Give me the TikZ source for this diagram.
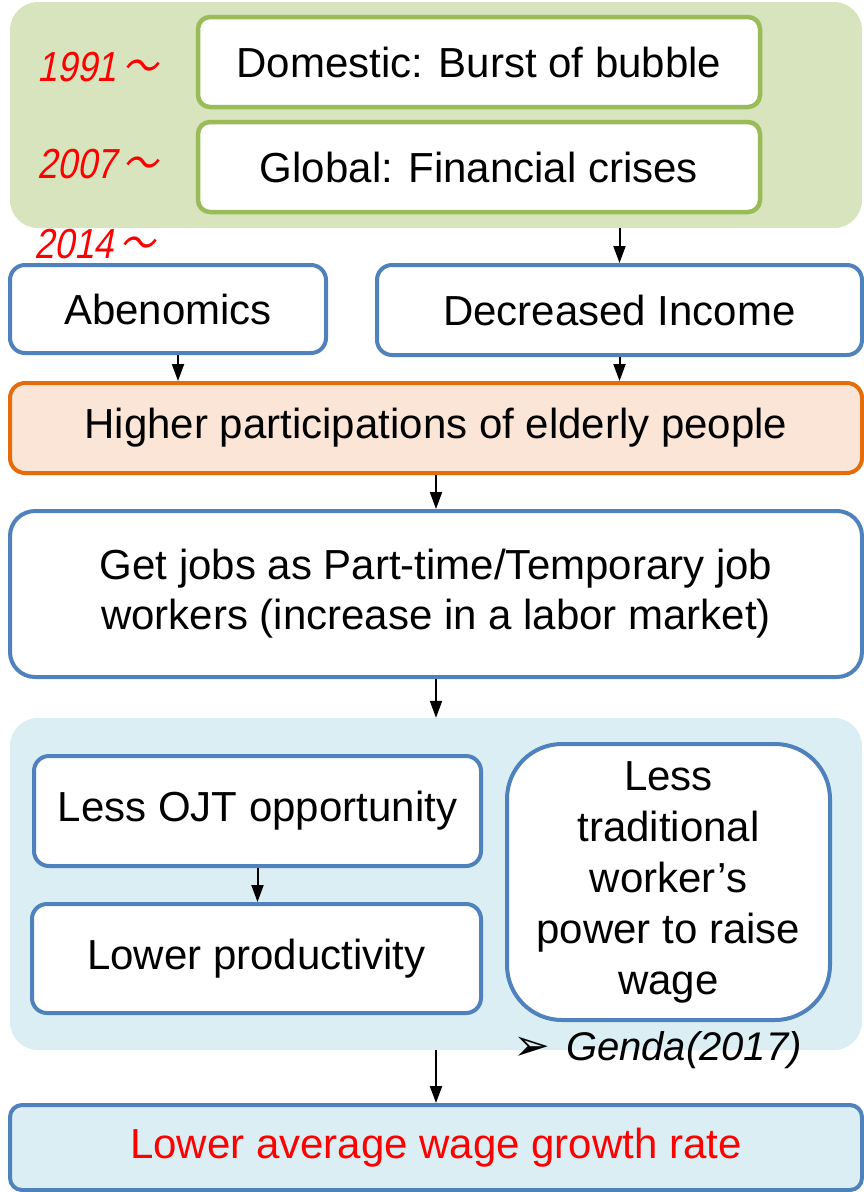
\documentclass[tikz,border=0pt]{standalone}
\usepackage{fontspec}
\setmainfont{Liberation Sans}
\newfontfamily\cjkfont[FakeSlant=0.2,FakeStretch=0.85]{Noto Sans CJK JP}
\newfontfamily\yearfont[FakeSlant=0.2,FakeStretch=0.85]{Liberation Sans}
\newfontfamily\symfont{DejaVu Sans}
\usetikzlibrary{arrows.meta}
\definecolor{gbgc}{HTML}{D7E4BD}
\definecolor{gbd}{HTML}{9BBB59}
\definecolor{bbd}{HTML}{4F81BD}
\definecolor{obd}{HTML}{E46C0A}
\definecolor{ofill}{HTML}{FBE5D6}
\definecolor{lblue}{HTML}{DAEEF3}
\definecolor{red}{HTML}{FF0000}
\begin{document}
\begin{tikzpicture}[x=1pt,y=-1pt,
  txt/.style={font=\fontsize{42}{50}\selectfont, align=center, inner sep=0pt},
  gbox/.style={txt, draw=gbd, line width=4.5pt, fill=white, rounded corners=12pt},
  bbox/.style={txt, draw=bbd, line width=4pt, fill=white, rounded corners=15pt},
  bgpanel/.style={inner sep=0pt, rounded corners=28pt},
  year/.style={font=\fontsize{42}{44}\selectfont\yearfont, text=red, inner sep=0pt},
  arr/.style={line width=2pt, -{Triangle[length=17pt,width=12pt]}}]
\useasboundingbox (0,0) rectangle (864,1192);
% background panels
\node[bgpanel, fill=gbgc, minimum width=852pt, minimum height=226pt] (gbg) at (436,115) {};
\node[bgpanel, fill=lblue, minimum width=852pt, minimum height=332pt] (bbg) at (436,884) {};
% top boxes
\node[gbox, minimum width=562pt, minimum height=90pt] (dom) at (479,62) {Domestic: Burst of bubble};
\node[gbox, minimum width=562pt, minimum height=90pt] (glob) at (479,167) {Global: Financial crises};
\node[year] (y1) at (98,67) {1991\kern6pt{\cjkfont ～}};
\node[year] (y2) at (98,164) {2007\kern6pt{\cjkfont ～}};
\node[year] (y3) at (95,244) {2014\kern6pt{\cjkfont ～}};
% second row
\node[bbox, minimum width=316pt, minimum height=88pt] (abe) at (168,309) {Abenomics};
\node[bbox, minimum width=485pt, minimum height=90pt] (dec) at (619.5,310) {Decreased Income};
\node[txt, draw=obd, line width=4pt, fill=ofill, rounded corners=15pt, minimum width=852pt, minimum height=90pt] (high) at (436,428) {Higher participations of elderly people};
\node[bbox, rounded corners=25pt, minimum width=852pt, minimum height=166pt] (jobs) at (436,594) {Get jobs as Part-time/Temporary job\\workers (increase in a labor market)};
% inner panel boxes
\node[bbox, minimum width=447pt, minimum height=110pt] (ojt) at (257.5,811) {Less OJT opportunity};
\node[bbox, minimum width=449pt, minimum height=109pt] (prod) at (256.5,958.5) {Lower productivity};
\node[bbox, rounded corners=55pt, minimum width=323pt, minimum height=276pt, font=\fontsize{42}{51}\selectfont] (trad) at (668.5,882) {Less\\traditional\\worker’s\\power to raise\\wage};
\node[inner sep=0pt, anchor=west, font=\fontsize{40}{42}\selectfont] (genda) at (513,1050) {{\symfont\fontsize{44}{46}\selectfont ➢}\hspace{16pt}\textit{Genda(2017)}};
% bottom
\node[txt, draw=bbd, line width=4pt, fill=lblue, rounded corners=12pt, minimum width=852pt, minimum height=85pt, text=red] (wage) at (436,1147.5) {Lower average wage growth rate};
% arrows
\draw[arr] (gbg.south -| dec.north) -- (dec.north);
\draw[arr] ([xshift=10pt]abe.south) -- ([xshift=10pt]abe.south |- high.north);
\draw[arr] (dec.south) -- (dec.south |- high.north);
\draw[arr] (high.south) -- (jobs.north);
\draw[arr] (jobs.south) -- (bbg.north);
\draw[arr] (ojt.south) -- (ojt.south |- prod.north);
\draw[arr] (bbg.south) -- (wage.north);
\end{tikzpicture}
\end{document}
